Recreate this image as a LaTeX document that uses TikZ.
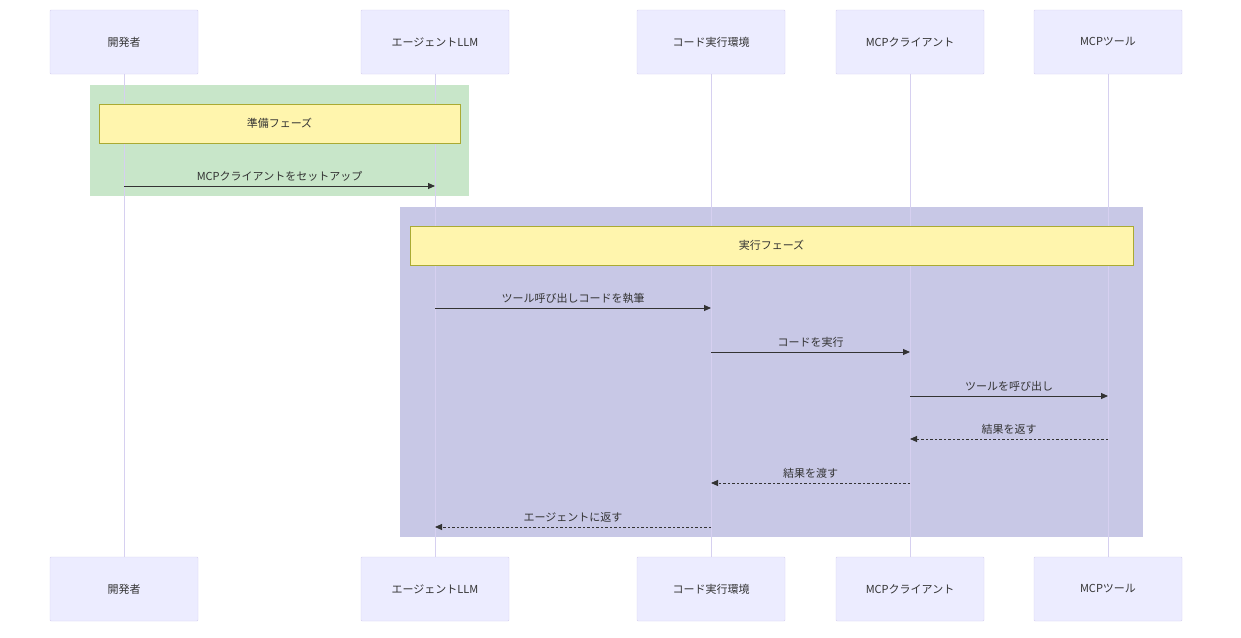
\documentclass[tikz,border=0pt]{standalone}
\usepackage{fontspec}
\setmainfont{Noto Sans CJK JP}
\usetikzlibrary{arrows.meta}
\definecolor{actfill}{HTML}{ECECFF}
\definecolor{actline}{HTML}{D6D0F0}
\definecolor{txt}{HTML}{333333}
\definecolor{grn}{HTML}{C8E6C9}
\definecolor{prp}{HTML}{C8C8E6}
\definecolor{notef}{HTML}{FFF5AD}
\definecolor{notel}{HTML}{AAAA33}
\begin{document}
\begin{tikzpicture}[x=1pt,y=-1pt,
 actor/.style={draw=actline,fill=actfill,minimum width=148pt,minimum height=64pt,inner sep=0pt,font=\fontsize{11}{13}\selectfont,text=txt,rounded corners=1pt},
 note/.style={draw=notel,fill=notef,inner sep=0pt,font=\fontsize{11}{13}\selectfont,text=txt},
 life/.style={draw=actline,line width=1pt},
 msg/.style={draw=txt,line width=0.9pt,-{Triangle[length=7pt,width=6pt]}},
 dmsg/.style={msg,dash pattern=on 2.5pt off 2pt},
 lbl/.style={font=\fontsize{11}{13}\selectfont,text=txt,above=1pt}]
\useasboundingbox (0,0) rectangle (1241,637);
\fill[white] (0,0) rectangle (1241,637);
\fill[grn] (90,85) rectangle (469,196);
\fill[prp] (400,207) rectangle (1143,537);
\foreach \n/\x/\t in {a/124/開発者,b/435/エージェントLLM,c/711/コード実行環境,d/910/MCPクライアント,e/1108/MCPツール}{
 \node[actor] (\n1) at (\x,42) {\t};
 \node[actor] (\n2) at (\x,589) {\t};
 \draw[life] (\n1.south) -- (\n2.north);
 \foreach \y in {186,308,352,396,439,483,527}{\coordinate (\n\y) at (\x,\y);}
}
\node[note,minimum width=361pt,minimum height=39pt] (n1) at (279.5,123.5) {準備フェーズ};
\node[note,minimum width=723pt,minimum height=39pt] (n2) at (771.5,245.5) {実行フェーズ};
\draw[msg] (a186) -- node[lbl]{MCPクライアントをセットアップ} (b186);
\draw[msg] (b308) -- node[lbl]{ツール呼び出しコードを執筆} (c308);
\draw[msg] (c352) -- node[lbl]{コードを実行} (d352);
\draw[msg] (d396) -- node[lbl]{ツールを呼び出し} (e396);
\draw[dmsg] (e439) -- node[lbl]{結果を返す} (d439);
\draw[dmsg] (d483) -- node[lbl]{結果を渡す} (c483);
\draw[dmsg] (c527) -- node[lbl]{エージェントに返す} (b527);
\end{tikzpicture}
\end{document}
